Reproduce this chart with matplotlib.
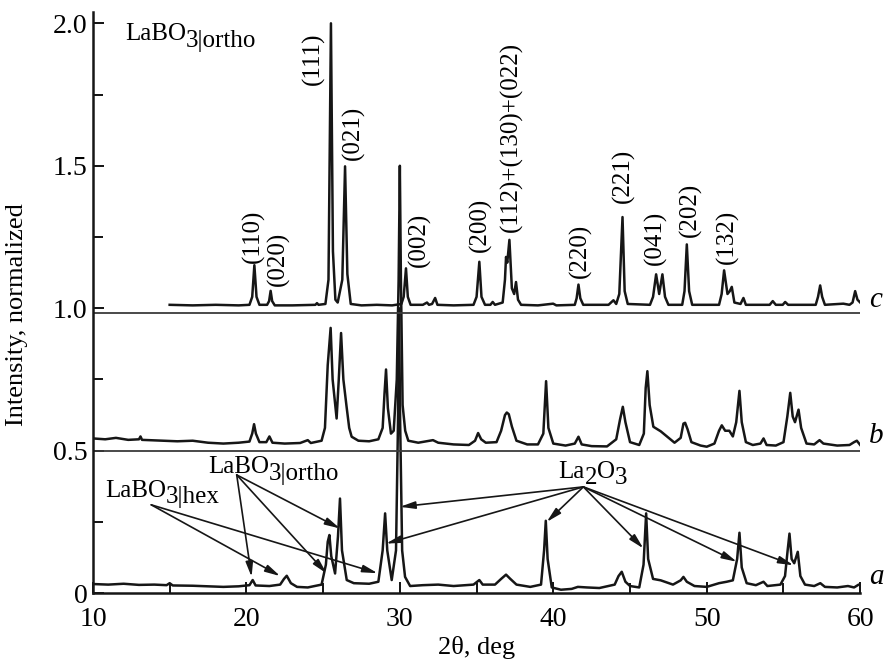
"""XRD patterns of LaBO3 samples (a, b, c), stacked and normalized."""
import matplotlib
matplotlib.use("Agg")
import matplotlib.pyplot as plt
import numpy as np
from matplotlib.ticker import AutoMinorLocator

plt.rcParams["font.family"] = ["Liberation Serif", "DejaVu Serif"]
plt.rcParams["mathtext.fontset"] = "stix"

# ---- data: (2theta, intensity) vertices ----
trace_c = [
    (15.0, 1.012), (16.5, 1.010), (18.0, 1.012), (19.5, 1.010), (20.2, 1.012),
    (20.38, 1.04), (20.52, 1.151), (20.66, 1.04), (20.85, 1.012), (21.35, 1.012),
    (21.48, 1.025), (21.58, 1.061), (21.68, 1.025), (21.85, 1.010), (23.0, 1.010),
    (24.5, 1.012), (24.6, 1.018), (24.7, 1.012), (25.15, 1.015), (25.35, 1.10),
    (25.51, 2.0), (25.64, 1.20), (25.8, 1.03), (25.95, 1.02), (26.25, 1.10),
    (26.43, 1.498), (26.58, 1.12), (26.8, 1.015), (27.5, 1.010), (28.5, 1.012),
    (29.5, 1.010), (30.1, 1.015), (30.25, 1.04), (30.40, 1.14), (30.52, 1.04),
    (30.7, 1.012), (31.5, 1.012), (31.77, 1.02), (31.9, 1.012), (32.1, 1.015),
    (32.3, 1.036), (32.45, 1.012), (33.5, 1.010), (34.8, 1.012), (35.0, 1.04),
    (35.18, 1.163), (35.32, 1.04), (35.55, 1.012), (35.9, 1.012), (36.05, 1.022),
    (36.2, 1.012), (36.7, 1.02), (36.85, 1.10), (36.92, 1.18), (37.0, 1.16),
    (37.14, 1.24), (37.3, 1.07), (37.45, 1.05), (37.57, 1.092), (37.7, 1.03),
    (37.9, 1.012), (39.0, 1.010), (39.99, 1.016), (40.2, 1.010), (41.4, 1.012),
    (41.52, 1.035), (41.64, 1.083), (41.76, 1.035), (41.95, 1.012), (43.6, 1.012),
    (43.92, 1.028), (44.1, 1.015), (44.3, 1.05), (44.51, 1.32), (44.65, 1.06),
    (44.85, 1.015), (46.3, 1.012), (46.5, 1.04), (46.7, 1.119), (46.9, 1.05),
    (47.11, 1.119), (47.28, 1.04), (47.5, 1.012), (48.4, 1.012), (48.55, 1.06),
    (48.70, 1.224), (48.85, 1.06), (49.05, 1.012), (50.8, 1.012), (50.97, 1.05),
    (51.13, 1.133), (51.35, 1.05), (51.5, 1.06), (51.63, 1.075), (51.8, 1.02),
    (52.2, 1.015), (52.39, 1.036), (52.55, 1.012), (54.1, 1.012), (54.3, 1.025),
    (54.5, 1.012), (54.95, 1.012), (55.11, 1.022), (55.3, 1.012), (57.1, 1.012),
    (57.25, 1.04), (57.39, 1.08), (57.52, 1.04), (57.7, 1.012), (58.9, 1.016),
    (59.3, 1.012), (59.5, 1.02), (59.67, 1.06), (59.82, 1.03), (60.0, 1.02),
]

trace_b = [
    (10.0, 0.543), (10.8, 0.540), (11.5, 0.545), (12.3, 0.538), (13.0, 0.540),
    (13.1, 0.550), (13.2, 0.538), (14.5, 0.535), (15.5, 0.533), (16.5, 0.535),
    (17.5, 0.528), (18.5, 0.525), (19.5, 0.528), (20.2, 0.532), (20.38, 0.56),
    (20.50, 0.593), (20.62, 0.56), (20.85, 0.53), (21.3, 0.53), (21.5, 0.55),
    (21.7, 0.528), (22.5, 0.525), (23.5, 0.527), (24.0, 0.537), (24.2, 0.527),
    (24.9, 0.535), (25.12, 0.58), (25.3, 0.80), (25.49, 0.931), (25.62, 0.75),
    (25.88, 0.613), (26.02, 0.75), (26.17, 0.913), (26.32, 0.75), (26.53, 0.654),
    (26.7, 0.58), (26.86, 0.549), (27.3, 0.535), (28.0, 0.533), (28.6, 0.54),
    (28.88, 0.58), (29.0, 0.70), (29.10, 0.785), (29.22, 0.65), (29.42, 0.56),
    (29.6, 0.57), (29.8, 0.75), (29.92, 1.10), (30.0, 1.5), (30.07, 1.10),
    (30.18, 0.66), (30.35, 0.57), (30.55, 0.535), (31.2, 0.528), (32.16, 0.537),
    (32.5, 0.528), (33.5, 0.522), (34.5, 0.520), (34.9, 0.535), (35.1, 0.562),
    (35.3, 0.54), (35.6, 0.528), (36.3, 0.53), (36.6, 0.57), (36.85, 0.625),
    (36.97, 0.634), (37.1, 0.628), (37.3, 0.585), (37.6, 0.535), (38.3, 0.522),
    (39.0, 0.522), (39.35, 0.56), (39.53, 0.744), (39.68, 0.58), (40.0, 0.525),
    (40.8, 0.518), (41.4, 0.525), (41.64, 0.549), (41.85, 0.522), (42.5, 0.516),
    (43.5, 0.515), (44.1, 0.54), (44.35, 0.61), (44.53, 0.654), (44.7, 0.60),
    (45.0, 0.53), (45.6, 0.52), (45.9, 0.56), (46.02, 0.72), (46.13, 0.779),
    (46.28, 0.66), (46.52, 0.584), (47.0, 0.568), (47.4, 0.55), (47.9, 0.528),
    (48.3, 0.545), (48.48, 0.595), (48.59, 0.598), (48.75, 0.575), (49.0, 0.53),
    (49.6, 0.518), (50.0, 0.514), (50.5, 0.525), (50.8, 0.57), (50.98, 0.589),
    (51.2, 0.57), (51.47, 0.57), (51.7, 0.55), (51.92, 0.60), (52.13, 0.71),
    (52.28, 0.60), (52.55, 0.53), (53.0, 0.52), (53.5, 0.525), (53.70, 0.543),
    (53.9, 0.52), (54.5, 0.518), (55.0, 0.53), (55.25, 0.62), (55.44, 0.703),
    (55.6, 0.62), (55.75, 0.60), (55.98, 0.644), (56.15, 0.58), (56.5, 0.525),
    (57.0, 0.522), (57.35, 0.537), (57.6, 0.525), (58.5, 0.518), (59.3, 0.52),
    (59.6, 0.53), (59.78, 0.535), (60.0, 0.52),
]

trace_a = [
    (10.0, 0.032), (11.0, 0.030), (12.0, 0.033), (13.0, 0.029), (14.0, 0.030),
    (14.8, 0.028), (15.0, 0.035), (15.2, 0.027), (16.5, 0.026), (17.5, 0.024),
    (18.5, 0.022), (19.5, 0.024), (20.2, 0.028), (20.41, 0.046), (20.6, 0.027),
    (21.5, 0.025), (22.2, 0.030), (22.45, 0.050), (22.63, 0.061), (22.9, 0.035),
    (23.3, 0.022), (24.0, 0.020), (24.9, 0.030), (25.18, 0.10), (25.3, 0.18),
    (25.41, 0.204), (25.53, 0.13), (25.78, 0.069), (25.97, 0.20), (26.10, 0.332),
    (26.23, 0.15), (26.54, 0.046), (27.0, 0.035), (28.0, 0.033), (28.6, 0.040),
    (28.88, 0.15), (29.04, 0.28), (29.18, 0.15), (29.47, 0.046), (29.75, 0.15),
    (29.88, 0.60), (29.95, 1.0), (30.02, 0.60), (30.15, 0.15), (30.34, 0.057),
    (30.67, 0.025), (31.5, 0.028), (32.5, 0.030), (33.5, 0.025), (34.8, 0.030),
    (35.18, 0.046), (35.4, 0.030), (36.2, 0.030), (36.6, 0.050), (36.92, 0.065),
    (37.2, 0.050), (37.6, 0.030), (38.5, 0.022), (39.2, 0.030), (39.4, 0.15),
    (39.51, 0.254), (39.63, 0.12), (39.9, 0.020), (40.5, 0.012), (41.2, 0.015),
    (41.6, 0.022), (42.2, 0.020), (43.0, 0.018), (44.0, 0.030), (44.25, 0.060),
    (44.46, 0.075), (44.7, 0.040), (45.0, 0.025), (45.6, 0.020), (45.88, 0.10),
    (46.05, 0.28), (46.18, 0.12), (46.5, 0.050), (47.0, 0.045), (47.8, 0.030),
    (48.3, 0.045), (48.48, 0.057), (48.7, 0.040), (49.2, 0.025), (50.0, 0.022),
    (50.8, 0.035), (51.3, 0.040), (51.7, 0.045), (51.98, 0.12), (52.13, 0.212),
    (52.28, 0.09), (52.6, 0.035), (53.2, 0.028), (53.7, 0.040), (53.95, 0.025),
    (54.8, 0.030), (55.1, 0.060), (55.27, 0.15), (55.39, 0.209), (55.53, 0.12),
    (55.7, 0.105), (55.93, 0.145), (56.1, 0.06), (56.4, 0.030), (57.0, 0.025),
    (57.4, 0.035), (57.7, 0.022), (58.5, 0.020), (59.2, 0.025), (59.6, 0.020),
    (59.9, 0.030), (60.0, 0.030),
]

separator_levels = [0.5, 0.985]

# Miller indices of the orthorhombic phase: (label, 2theta, bottom of text)
hkl_labels = [
    ("(110)", 20.45, 1.16), ("(020)", 22.08, 1.077), ("(111)", 24.36, 1.782),
    ("(021)", 26.97, 1.519), ("(002)", 31.27, 1.145), ("(200)", 35.23, 1.198),
    ("(112)+(130)+(022)", 37.29, 1.268), ("(220)", 41.75, 1.105),
    ("(221)", 44.57, 1.368), ("(041)", 46.64, 1.151), ("(202)", 48.92, 1.25),
    ("(132)", 51.31, 1.157),
]

# phase annotations: text anchor and arrow targets
hex_anchor = (13.8, 0.31)
hex_targets = [(22.2, 0.06), (28.55, 0.07)]
ortho_anchor = (19.37, 0.415)
ortho_targets = [(20.34, 0.057), (25.23, 0.069), (26.1, 0.227)]
la2o3_anchor = (41.96, 0.373)
la2o3_targets = [(30.01, 0.303), (29.1, 0.174), (39.57, 0.25),
                 (45.87, 0.157), (51.96, 0.11), (55.65, 0.098)]

LINE = "#161616"
FS = 18


def chem_label(ax, x, y, parts, size=FS):
    """Chemical formula with lowered (same-size) pieces, e.g. LaBO3|ortho."""
    prev = ax.text(x, y, parts[0][0], fontsize=size, va="baseline", ha="left")
    level = parts[0][1]
    for txt, lev in parts[1:]:
        prev = ax.annotate(txt, xy=(1, 0), xycoords=prev,
                           xytext=(0, (lev - level) * 4.5),
                           textcoords="offset points",
                           fontsize=size, va="bottom", ha="left")
        level = lev


def arrows(ax, anchor, targets):
    for tx, ty in targets:
        ax.annotate("", xy=(tx, ty), xytext=anchor,
                    arrowprops=dict(arrowstyle="-|>,head_length=0.9,head_width=0.22",
                                    color=LINE, lw=1.2, shrinkA=0, shrinkB=0))


fig = plt.figure(figsize=(8.85, 6.62), dpi=100)
ax = fig.add_axes([0.105, 0.104, 0.867, 0.878])

for tr in (trace_a, trace_b, trace_c):
    arr = np.array(tr)
    ax.plot(arr[:, 0], arr[:, 1], color=LINE, lw=1.8, solid_joinstyle="round")

for lvl in separator_levels:
    ax.plot([10, 60], [lvl, lvl], color="#3a3a3a", lw=1.3)

for lab, x, y in hkl_labels:
    ax.text(x, y, lab, rotation=90, ha="center", va="bottom", fontsize=FS)

chem_label(ax, 12.09, 1.94, [("LaBO", 0), ("3|ortho", -1)])
chem_label(ax, 10.78, 0.337, [("LaBO", 0), ("3|hex", -1)])
chem_label(ax, 17.5, 0.42, [("LaBO", 0), ("3|ortho", -1)])
chem_label(ax, 40.33, 0.405, [("La", 0), ("2", -1), ("O", 0), ("3", -1)])

arrows(ax, hex_anchor, hex_targets)
arrows(ax, ortho_anchor, ortho_targets)
arrows(ax, la2o3_anchor, la2o3_targets)

for letter, y in (("a", 0.055), ("b", 0.55), ("c", 1.03)):
    ax.text(60.55, y, letter, fontsize=21, style="italic", ha="left",
            va="center", clip_on=False)

ax.set_xlim(10, 60)
ax.set_ylim(0, 2.04)
ax.set_xticks([10, 20, 30, 40, 50, 60])
ax.set_yticks([0, 0.5, 1.0, 1.5, 2.0])
ax.set_yticklabels(["0", "0.5", "1.0", "1.5", "2.0"])
ax.xaxis.set_minor_locator(AutoMinorLocator(2))
ax.yaxis.set_minor_locator(AutoMinorLocator(2))
ax.tick_params(which="both", direction="in", width=1.3, labelsize=20)
ax.tick_params(which="major", length=8)
ax.tick_params(which="minor", length=7)
ax.tick_params(axis="x", pad=10)
ax.tick_params(axis="y", pad=4)

for side in ("top", "right"):
    ax.spines[side].set_visible(False)
for side in ("left", "bottom"):
    ax.spines[side].set_linewidth(1.8)
    ax.spines[side].set_color(LINE)

ax.set_xlabel("2θ, deg", fontsize=19, labelpad=3)
ax.set_ylabel("Intensity, normalized", fontsize=19, labelpad=10)
ax.yaxis.set_label_coords(-0.084, 0.48)

fig.savefig("out.png", dpi=100)
plt.close(fig)
